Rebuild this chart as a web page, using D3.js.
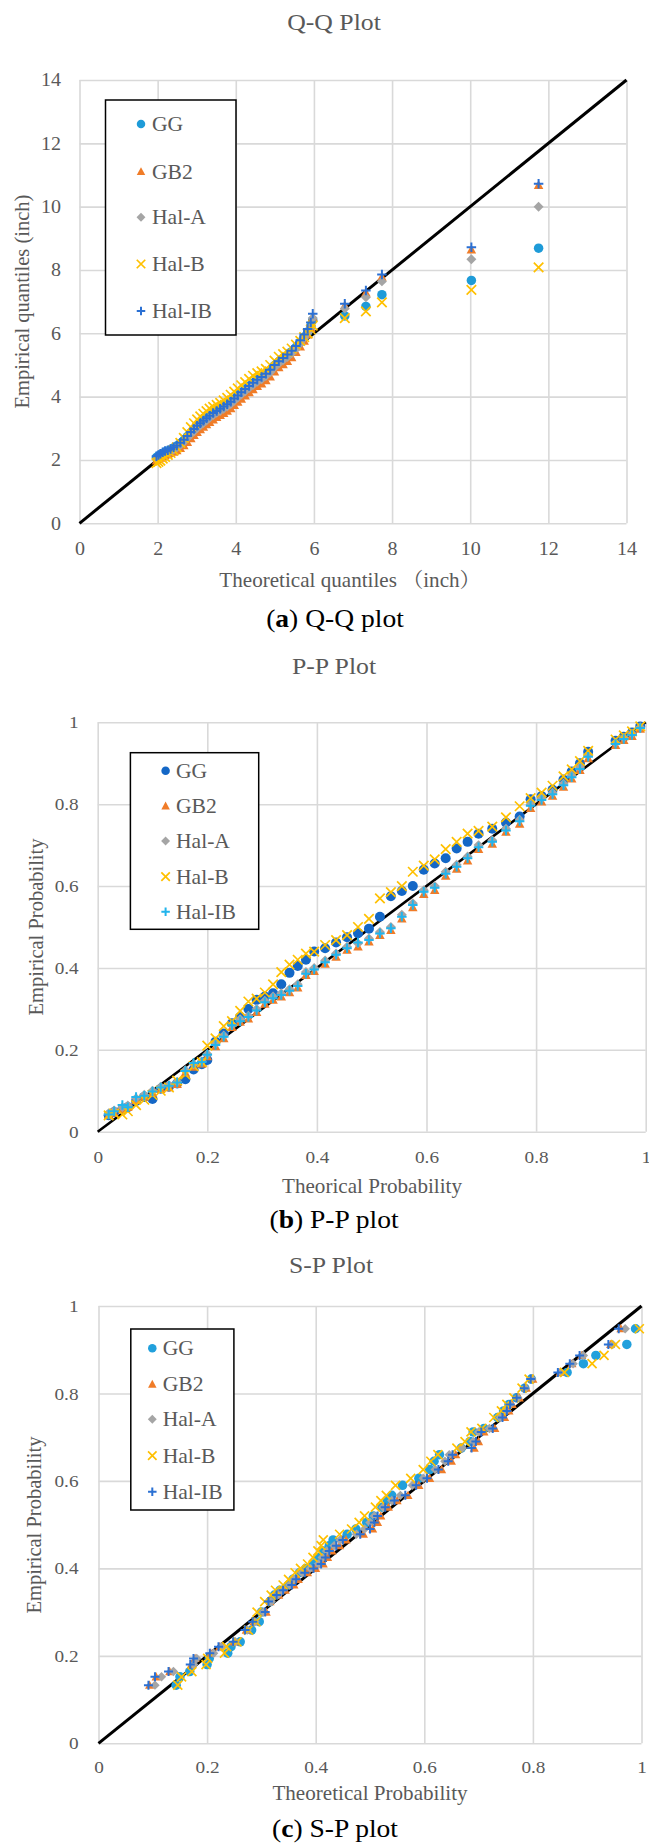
<!DOCTYPE html>
<html>
<head>
<meta charset="utf-8">
<script src="https://cdn.jsdelivr.net/npm/d3@7"></script>
<style>
  html, body { margin: 0; padding: 0; background: #ffffff; }
  svg { display: block; }
</style>
</head>
<body>
<svg id="fig" width="649" height="1848"></svg>
<script>
// ---------- shared series labels ----------
const seriesNames = ["GG", "GB2", "Hal-A", "Hal-B", "Hal-IB"];
const seriesShapes = ["circle", "triangle", "diamond", "cross", "plus"];

// ---------- (a) Q-Q plot (inch) ----------
const qqTicks = [0, 2, 4, 6, 8, 10, 12, 14];
const qqTickLabels = ["0", "2", "4", "6", "8", "10", "12", "14"];
const qqX = [1.97, 2.02, 2.07, 2.13, 2.19, 2.26, 2.33, 2.41, 2.49, 2.58,
  2.67, 2.76, 2.85, 2.93, 3.01, 3.09, 3.17, 3.25, 3.33, 3.42,
  3.51, 3.6, 3.69, 3.78, 3.87, 3.96, 4.05, 4.14, 4.24, 4.34,
  4.44, 4.55, 4.66, 4.77, 4.88, 4.99, 5.1, 5.21, 5.32, 5.43,
  5.54, 5.65, 5.75, 5.84, 5.92, 5.97, 6.79, 7.33, 7.74, 10.03, 11.75];
const qqGG = [2.08, 2.12, 2.16, 2.2, 2.25, 2.28, 2.32, 2.38, 2.44, 2.52,
  2.62, 2.74, 2.86, 2.96, 3.06, 3.14, 3.22, 3.3, 3.38, 3.46,
  3.54, 3.6, 3.67, 3.74, 3.82, 3.92, 4.02, 4.12, 4.22, 4.32,
  4.42, 4.52, 4.6, 4.7, 4.82, 4.98, 5.1, 5.2, 5.3, 5.42,
  5.56, 5.72, 5.88, 6.04, 6.22, 6.42, 6.55, 6.85, 7.22, 7.67, 8.69];
const qqGB2 = [1.98, 2.02, 2.06, 2.1, 2.15, 2.18, 2.21, 2.25, 2.3, 2.37,
  2.46, 2.56, 2.68, 2.78, 2.88, 2.96, 3.04, 3.12, 3.19, 3.27,
  3.35, 3.41, 3.48, 3.55, 3.63, 3.73, 3.83, 3.93, 4.03, 4.13,
  4.23, 4.33, 4.41, 4.51, 4.63, 4.79, 4.92, 5.02, 5.12, 5.24,
  5.4, 5.58, 5.76, 5.96, 6.16, 6.52, 6.88, 7.28, 7.78, 8.64, 10.68];
const qqHalA = [2.03, 2.07, 2.11, 2.15, 2.2, 2.24, 2.28, 2.33, 2.39, 2.47,
  2.57, 2.69, 2.81, 2.91, 3.01, 3.09, 3.17, 3.25, 3.33, 3.41,
  3.49, 3.55, 3.62, 3.69, 3.77, 3.87, 3.97, 4.07, 4.17, 4.27,
  4.37, 4.47, 4.55, 4.65, 4.77, 4.92, 5.05, 5.15, 5.25, 5.37,
  5.51, 5.68, 5.85, 6.02, 6.2, 6.48, 6.78, 7.14, 7.64, 8.34, 10.0];
const qqHalB = [1.9, 1.94, 1.98, 2.04, 2.1, 2.16, 2.22, 2.3, 2.4, 2.54,
  2.7, 2.88, 3.04, 3.16, 3.28, 3.38, 3.46, 3.54, 3.62, 3.68,
  3.74, 3.8, 3.88, 3.96, 4.06, 4.16, 4.26, 4.36, 4.46, 4.56,
  4.66, 4.74, 4.8, 4.88, 5.0, 5.14, 5.26, 5.34, 5.42, 5.52,
  5.64, 5.76, 5.88, 6.0, 6.12, 6.24, 6.48, 6.69, 6.98, 7.37, 8.08];
const qqHalIB = [2.12, 2.16, 2.2, 2.24, 2.28, 2.31, 2.35, 2.4, 2.46, 2.54,
  2.64, 2.76, 2.88, 2.98, 3.08, 3.16, 3.24, 3.32, 3.4, 3.48,
  3.55, 3.62, 3.69, 3.76, 3.84, 3.94, 4.04, 4.14, 4.24, 4.34,
  4.44, 4.53, 4.62, 4.72, 4.85, 5.0, 5.12, 5.22, 5.33, 5.45,
  5.6, 5.78, 5.96, 6.14, 6.34, 6.62, 6.93, 7.35, 7.86, 8.72, 10.72];
const qqColors = ["#1e9bd8", "#f07c28", "#a5a5a5", "#ffc000", "#2b70d3"];

// ---------- (b) P-P plot ----------
const probTicks = [0, 0.2, 0.4, 0.6, 0.8, 1];
const probTickLabels = ["0", "0.2", "0.4", "0.6", "0.8", "1"];
const ppX = [0.02, 0.03, 0.045, 0.055, 0.07, 0.085, 0.1, 0.115, 0.13, 0.145,
  0.16, 0.175, 0.19, 0.2, 0.215, 0.23, 0.245, 0.26, 0.275, 0.29,
  0.305, 0.32, 0.335, 0.35, 0.365, 0.38, 0.395, 0.415, 0.435, 0.455,
  0.475, 0.495, 0.515, 0.535, 0.555, 0.575, 0.595, 0.615, 0.635, 0.655,
  0.675, 0.695, 0.72, 0.745, 0.77, 0.79, 0.81, 0.83, 0.85, 0.865,
  0.88, 0.895, 0.945, 0.96, 0.975, 0.99];
const ppGG = [0.04, 0.048, 0.055, 0.06, 0.075, 0.085, 0.08, 0.105, 0.11, 0.118,
  0.128, 0.152, 0.165, 0.175, 0.22, 0.24, 0.265, 0.28, 0.3, 0.322,
  0.33, 0.338, 0.36, 0.388, 0.405, 0.42, 0.44, 0.448, 0.462, 0.475,
  0.485, 0.496, 0.525, 0.575, 0.588, 0.6, 0.64, 0.655, 0.668, 0.692,
  0.708, 0.728, 0.74, 0.755, 0.77, 0.812, 0.82, 0.835, 0.86, 0.88,
  0.9, 0.928, 0.955, 0.965, 0.975, 0.99];
const ppGB2 = [0.04, 0.046, 0.055, 0.06, 0.077, 0.085, 0.095, 0.104, 0.108, 0.116,
  0.144, 0.158, 0.166, 0.184, 0.208, 0.228, 0.255, 0.268, 0.276, 0.292,
  0.312, 0.322, 0.33, 0.34, 0.352, 0.382, 0.392, 0.41, 0.427, 0.444,
  0.452, 0.464, 0.48, 0.492, 0.52, 0.548, 0.58, 0.59, 0.625, 0.642,
  0.662, 0.69, 0.703, 0.732, 0.752, 0.79, 0.806, 0.82, 0.842, 0.862,
  0.883, 0.912, 0.944, 0.956, 0.966, 0.984];
const ppHalA = [0.045, 0.052, 0.06, 0.064, 0.082, 0.09, 0.1, 0.11, 0.114, 0.122,
  0.15, 0.165, 0.172, 0.19, 0.215, 0.235, 0.262, 0.275, 0.283, 0.3,
  0.32, 0.33, 0.338, 0.348, 0.36, 0.39, 0.4, 0.418, 0.435, 0.452,
  0.46, 0.472, 0.488, 0.5, 0.53, 0.558, 0.59, 0.6, 0.635, 0.652,
  0.672, 0.7, 0.712, 0.74, 0.762, 0.8, 0.814, 0.828, 0.85, 0.87,
  0.89, 0.92, 0.95, 0.962, 0.972, 0.988];
const ppHalB = [0.04, 0.045, 0.042, 0.05, 0.065, 0.078, 0.09, 0.1, 0.108, 0.125,
  0.14, 0.16, 0.17, 0.21, 0.228, 0.258, 0.27, 0.295, 0.318, 0.325,
  0.34, 0.36, 0.39, 0.408, 0.42, 0.435, 0.44, 0.456, 0.468, 0.48,
  0.5, 0.52, 0.57, 0.585, 0.6, 0.635, 0.65, 0.665, 0.69, 0.708,
  0.728, 0.735, 0.745, 0.768, 0.795, 0.815, 0.828, 0.845, 0.868, 0.885,
  0.905, 0.93, 0.958, 0.968, 0.978, 0.99];
const ppHalIB = [0.042, 0.05, 0.065, 0.06, 0.085, 0.088, 0.098, 0.108, 0.112, 0.12,
  0.148, 0.168, 0.17, 0.188, 0.212, 0.232, 0.26, 0.27, 0.28, 0.296,
  0.316, 0.326, 0.334, 0.344, 0.356, 0.386, 0.396, 0.414, 0.432, 0.448,
  0.462, 0.468, 0.484, 0.497, 0.525, 0.554, 0.586, 0.596, 0.63, 0.647,
  0.668, 0.695, 0.708, 0.736, 0.758, 0.796, 0.81, 0.824, 0.846, 0.866,
  0.886, 0.916, 0.947, 0.959, 0.969, 0.986];
const ppColors = ["#1467c6", "#f07c28", "#a5a5a5", "#ffc000", "#22b4ec"];

// ---------- (c) S-P plot: empirical level shared, theoretical per model ----------
const spY = [0.133, 0.152, 0.164, 0.18, 0.194, 0.206, 0.221, 0.232, 0.259, 0.278,
  0.3, 0.324, 0.339, 0.35, 0.362, 0.375, 0.39, 0.4, 0.41, 0.425,
  0.44, 0.452, 0.465, 0.478, 0.49, 0.505, 0.52, 0.54, 0.555, 0.567,
  0.59, 0.606, 0.626, 0.645, 0.66, 0.675, 0.69, 0.712, 0.72, 0.745,
  0.76, 0.775, 0.79, 0.812, 0.833, 0.848, 0.868, 0.887, 0.912, 0.948];
const spGG = [0.143, 0.15, 0.168, 0.2, 0.204, 0.238, 0.244, 0.261, 0.282, 0.296,
  0.3, 0.316, 0.324, 0.334, 0.35, 0.358, 0.37, 0.382, 0.396, 0.404,
  0.414, 0.425, 0.432, 0.458, 0.474, 0.494, 0.506, 0.522, 0.532, 0.54,
  0.56, 0.59, 0.61, 0.618, 0.628, 0.668, 0.684, 0.69, 0.71, 0.735,
  0.746, 0.756, 0.77, 0.785, 0.797, 0.863, 0.893, 0.916, 0.973, 0.989];
const spGB2 = [0.094, 0.106, 0.131, 0.171, 0.178, 0.207, 0.223, 0.25, 0.272, 0.286,
  0.309, 0.316, 0.332, 0.344, 0.36, 0.368, 0.385, 0.4, 0.414, 0.422,
  0.43, 0.444, 0.456, 0.488, 0.505, 0.514, 0.52, 0.534, 0.55, 0.57,
  0.59, 0.61, 0.632, 0.65, 0.658, 0.692, 0.7, 0.71, 0.73, 0.748,
  0.756, 0.762, 0.775, 0.788, 0.8, 0.85, 0.872, 0.89, 0.943, 0.962];
const spHalA = [0.104, 0.116, 0.138, 0.175, 0.181, 0.212, 0.226, 0.252, 0.274, 0.288,
  0.304, 0.318, 0.33, 0.338, 0.352, 0.36, 0.375, 0.39, 0.405, 0.412,
  0.42, 0.434, 0.445, 0.475, 0.49, 0.5, 0.508, 0.524, 0.54, 0.556,
  0.578, 0.598, 0.62, 0.638, 0.646, 0.67, 0.69, 0.7, 0.72, 0.74,
  0.75, 0.758, 0.772, 0.786, 0.798, 0.852, 0.874, 0.893, 0.947, 0.97];
const spHalB = [0.146, 0.153, 0.172, 0.198, 0.201, 0.232, 0.236, 0.255, 0.276, 0.29,
  0.292, 0.306, 0.318, 0.326, 0.34, 0.35, 0.362, 0.372, 0.385, 0.395,
  0.404, 0.41, 0.414, 0.444, 0.466, 0.48, 0.49, 0.51, 0.52, 0.53,
  0.547, 0.575, 0.598, 0.612, 0.625, 0.66, 0.675, 0.686, 0.706, 0.728,
  0.742, 0.752, 0.765, 0.78, 0.793, 0.858, 0.909, 0.931, 0.952, 0.996];
const spHalIB = [0.092, 0.104, 0.129, 0.169, 0.175, 0.205, 0.221, 0.248, 0.27, 0.284,
  0.307, 0.313, 0.328, 0.34, 0.356, 0.364, 0.38, 0.396, 0.41, 0.418,
  0.425, 0.438, 0.45, 0.482, 0.5, 0.508, 0.514, 0.528, 0.545, 0.565,
  0.585, 0.605, 0.626, 0.644, 0.652, 0.687, 0.695, 0.705, 0.726, 0.744,
  0.752, 0.758, 0.77, 0.784, 0.796, 0.846, 0.868, 0.886, 0.939, 0.958];
const spColors = ["#21a0dc", "#f07c28", "#a5a5a5", "#ffc000", "#2b70d3"];

// ---------- drawing helpers ----------
const FONT = "'Liberation Serif', 'Times New Roman', 'Noto Serif CJK SC', 'Noto Sans CJK SC', serif";
const GREY = "#595959";
const svg = d3.select("#fig");

function label(parent, x, y, str, size, opts = {}) {
  const sx = opts.sx == null ? 1.08 : opts.sx;
  let tf = `translate(${x},${y}) scale(${sx},1)`;
  if (opts.rotate) tf += ` rotate(${opts.rotate})`;
  return parent.append("text")
    .attr("transform", tf)
    .attr("text-anchor", opts.anchor || "middle")
    .attr("font-family", FONT)
    .attr("font-size", size)
    .attr("fill", opts.fill || GREY)
    .text(str);
}

// marker outlines, each spanning roughly `s` pixels
const markerTypes = {
  circle: s => ({ draw(ctx) { const r = s / 2; ctx.moveTo(r, 0); ctx.arc(0, 0, r, 0, 2 * Math.PI); } }),
  triangle: s => ({ draw(ctx) { const r = s / 2; ctx.moveTo(0, -r * 1.05); ctx.lineTo(r * 1.0, r * 0.8); ctx.lineTo(-r * 1.0, r * 0.8); ctx.closePath(); } }),
  diamond: s => ({ draw(ctx) { const r = s / 2 * 1.05; ctx.moveTo(0, -r); ctx.lineTo(r, 0); ctx.lineTo(0, r); ctx.lineTo(-r, 0); ctx.closePath(); } }),
  cross: s => ({ draw(ctx) { const r = s / 2; ctx.moveTo(-r, -r); ctx.lineTo(r, r); ctx.moveTo(-r, r); ctx.lineTo(r, -r); } }),
  plus: s => ({ draw(ctx) { const r = s / 2; ctx.moveTo(-r, 0); ctx.lineTo(r, 0); ctx.moveTo(0, -r); ctx.lineTo(0, r); } })
};

function styleMarker(sel, shape, color, size) {
  sel.attr("d", d3.symbol().type(markerTypes[shape](size)).size(1)());
  if (shape === "cross" || shape === "plus") {
    sel.attr("fill", "none").attr("stroke", color)
       .attr("stroke-width", shape === "plus" ? 2 : 1.7);
  } else {
    sel.attr("fill", color).attr("stroke", "none");
  }
  return sel;
}

function drawPanel(p) {
  const g = svg.append("g");
  const x = d3.scaleLinear().domain(p.domain).range([p.x0, p.x1]);
  const y = d3.scaleLinear().domain(p.domain).range([p.yBot, p.yTop]);
  const fmt = d => p.tickLabels[p.ticks.indexOf(d)];

  // gridlines and tick labels
  const gx = g.append("g").attr("transform", `translate(0,${p.yBot})`)
    .call(d3.axisBottom(x).tickValues(p.ticks).tickFormat(fmt)
      .tickSize(-(p.yBot - p.yTop)).tickPadding(p.xPad));
  const gy = g.append("g").attr("transform", `translate(${p.x0},0)`)
    .call(d3.axisLeft(y).tickValues(p.ticks).tickFormat(fmt)
      .tickSize(-(p.x1 - p.x0)).tickPadding(p.yPad));
  [gx, gy].forEach(a => {
    a.select(".domain").remove();
    a.selectAll(".tick line").attr("stroke", "#d9d9d9").attr("stroke-width", 1.6);
    a.selectAll(".tick text")
      .attr("font-family", FONT).attr("font-size", p.tickFont).attr("fill", GREY);
  });
  gx.selectAll(".tick text").attr("y", 0)
    .attr("transform", `translate(0,${p.xPad}) scale(1.1,1)`);
  gy.selectAll(".tick text").attr("x", 0)
    .attr("transform", `translate(${-p.yPad},0) scale(1.1,1)`);

  // reference diagonal
  g.append("line")
    .attr("x1", x(p.domain[0])).attr("y1", y(p.domain[0]))
    .attr("x2", x(p.domain[1])).attr("y2", y(p.domain[1]))
    .attr("stroke", "#000").attr("stroke-width", p.lineWidth);

  // scatter series
  p.series.forEach((s, si) => {
    const pts = s.xs.map((xv, i) => [x(xv), y(s.ys[i])]);
    const sel = g.append("g").selectAll("path").data(pts).join("path")
      .attr("transform", d => `translate(${d[0]},${d[1]})`);
    styleMarker(sel, seriesShapes[si], p.colors[si], seriesShapes[si] === "circle" ? p.dot : p.mark);
  });

  // legend
  const L = p.legend;
  g.append("rect").attr("x", L.x).attr("y", L.y).attr("width", L.w).attr("height", L.h)
    .attr("fill", "#fff").attr("stroke", "#000").attr("stroke-width", 1.5);
  seriesNames.forEach((name, i) => {
    const m = g.append("path").attr("transform", `translate(${L.mx},${L.ys[i]})`);
    styleMarker(m, seriesShapes[i], p.colors[i], 8.5);
    label(g, L.tx, L.ys[i] + 0.34 * L.font, name, L.font, { anchor: "start", sx: 1.08 });
  });

  // titles
  label(g, p.titleX, p.titleY, p.title, 23, { sx: 1.12 });
  label(g, p.xTitleX, p.xTitleY, p.xTitle, 20.5, { sx: 1.03 });
  label(g, p.yTitleX, p.yTitleY, p.yTitle, 20.5, { sx: 1.03, rotate: -90 });

  // caption with bold panel letter
  const cap = g.append("text")
    .attr("transform", `translate(${p.capX},${p.capY}) scale(1.06,1)`)
    .attr("text-anchor", "middle").attr("font-family", FONT)
    .attr("font-size", 26).attr("fill", "#000");
  cap.append("tspan").text("(");
  cap.append("tspan").attr("font-weight", "bold").text(p.capLetter);
  cap.append("tspan").text(") " + p.capText);
}

// ---------- panels ----------
drawPanel({
  domain: [0, 14], ticks: qqTicks, tickLabels: qqTickLabels,
  x0: 79.5, x1: 626.5, yTop: 80, yBot: 523.3,
  xPad: 19, yPad: 18.5, tickFont: 18.2, lineWidth: 3, dot: 9.5, mark: 9.5,
  colors: qqColors,
  series: [qqGG, qqGB2, qqHalA, qqHalB, qqHalIB].map(ys => ({ xs: qqX, ys })),
  legend: { x: 105.5, y: 100, w: 130.5, h: 235, mx: 141, tx: 152, font: 20,
            ys: [124, 171.7, 217.3, 264, 311] },
  title: "Q-Q Plot", titleX: 334, titleY: 30,
  xTitle: "Theoretical quantiles （inch）", xTitleX: 350, xTitleY: 587,
  yTitle: "Empirical quantiles (inch)", yTitleX: 29, yTitleY: 301.6,
  capLetter: "a", capText: "Q-Q plot", capX: 335, capY: 627
});

drawPanel({
  domain: [0, 1], ticks: probTicks, tickLabels: probTickLabels,
  x0: 97.7, x1: 645.7, yTop: 722.3, yBot: 1131.7,
  xPad: 18.5, yPad: 19, tickFont: 17.5, lineWidth: 2.6, dot: 10, mark: 9.5,
  colors: ppColors,
  series: [ppGG, ppGB2, ppHalA, ppHalB, ppHalIB].map(ys => ({ xs: ppX, ys })),
  legend: { x: 130.4, y: 752.7, w: 128.3, h: 176.6, mx: 165.6, tx: 176, font: 20,
            ys: [770.7, 806, 841, 876.7, 911.7] },
  title: "P-P Plot", titleX: 334, titleY: 674,
  xTitle: "Theorical Probability", xTitleX: 372, xTitleY: 1193,
  yTitle: "Empirical Probability", yTitleX: 43, yTitleY: 927,
  capLetter: "b", capText: "P-P plot", capX: 334, capY: 1228
});

drawPanel({
  domain: [0, 1], ticks: probTicks, tickLabels: probTickLabels,
  x0: 98.5, x1: 641.5, yTop: 1306, yBot: 1743.3,
  xPad: 17, yPad: 20, tickFont: 17.5, lineWidth: 3, dot: 9.5, mark: 9,
  colors: spColors,
  series: [spGG, spGB2, spHalA, spHalB, spHalIB].map(xs => ({ xs, ys: spY })),
  legend: { x: 130.8, y: 1329, w: 103.1, h: 181, mx: 152.3, tx: 162.7, font: 20,
            ys: [1348.3, 1384.3, 1419.3, 1455.7, 1491.7] },
  title: "S-P Plot", titleX: 331, titleY: 1273,
  xTitle: "Theoretical Probability", xTitleX: 370, xTitleY: 1800,
  yTitle: "Empirical Probability", yTitleX: 40.6, yTitleY: 1525,
  capLetter: "c", capText: "S-P plot", capX: 335, capY: 1837
});
</script>
</body>
</html>
